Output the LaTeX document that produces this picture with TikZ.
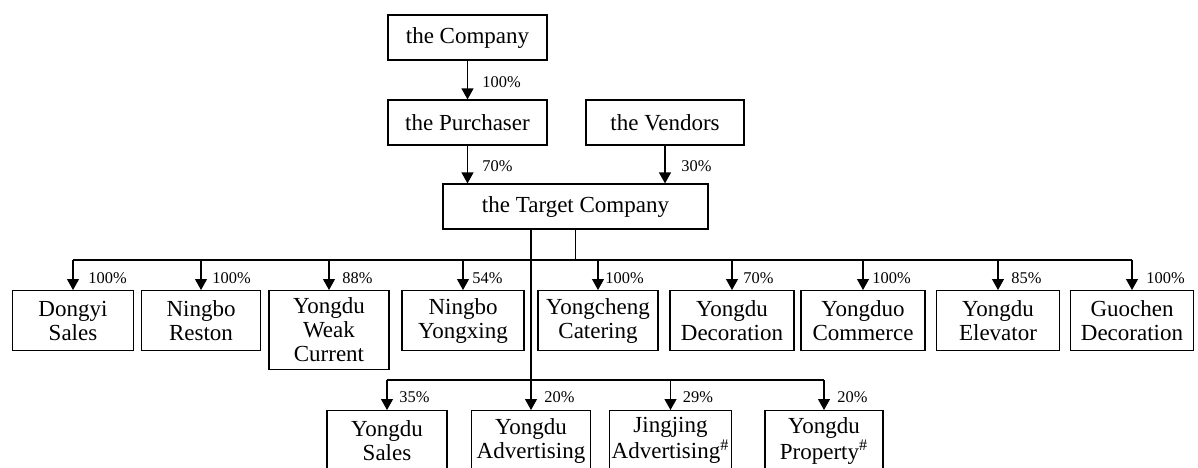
\documentclass[tikz,border=0pt]{standalone}
\usepackage{fontspec}
\setmainfont{Liberation Serif}
\usetikzlibrary{arrows.meta}

\begin{document}
\begin{tikzpicture}
        [
          x=0.5pt, y=-0.5pt,
          box/.style={draw, line width=0.6pt, align=center, inner sep=1pt,
            font=\fontsize{11.5}{12}\selectfont},
          pct/.style={anchor=west, inner sep=0pt, font=\fontsize{8.2}{9}\selectfont},
          arr/.style={draw, line width=0.6pt, -{Triangle[length=5.5pt,width=6pt]}},
          link/.style={draw, line width=0.6pt}
        ]
        \useasboundingbox (0,0) rectangle (1198,467);
        % holding chain
        \node [box, minimum width=79.5pt, minimum height=22.5pt] (company) at (467.5,37.5) {the Company};
        \node [box, minimum width=79.5pt, minimum height=22.5pt] (purchaser) at (467.5,122.5) {the Purchaser};
        \node [box, minimum width=79pt, minimum height=22.5pt] (vendors) at (665,122.5) {the Vendors};
        \node [box, minimum width=132.5pt, minimum height=22.5pt] (target) at (575.5,206.5) {the Target Company};
        \draw [arr] (company) -- (purchaser);
        \draw [arr] (purchaser.south) -- (purchaser.south |- target.north);
        \draw [arr] (vendors.south) -- (vendors.south |- target.north);
        \node [pct] (pcompany) at (482,82) {100\%};
        \node [pct] (ppurchaser) at (482,166) {70\%};
        \node [pct] (pvendors) at (681,166) {30\%};
        % buses
        \coordinate (busA) at (576,260);
        \coordinate (busB) at (531,380);
        % first row
        \foreach \name/\x/\w/\h/\txt/\p/\dx in {
            dongyi/73/60.5/30/{Dongyi\\Sales}/100/15,
            reston/201/59.5/30/{Ningbo\\Reston}/100/11,
            weak/329/60/39.5/{Yongdu\\Weak\\Current}/88/13,
            yongxing/463/61/30/{Ningbo\\Yongxing}/54/9,
            catering/598/60/30/{Yongcheng\\Catering}/100/7,
            decoration/732/62/30/{Yongdu\\Decoration}/70/11,
            commerce/863/62/30/{Yongduo\\Commerce}/100/9,
            elevator/998/61.5/30/{Yongdu\\Elevator}/85/13,
            guochen/1132/61.5/30/{Guochen\\Decoration}/100/14} {
            \node [box, anchor=north, minimum width=\w pt, minimum height=\h pt] (\name) at (\x,290) {\txt};
            \draw [arr] (\name.north |- busA) -- (\name.north);
            \node [pct] (p\name) at (\x+\dx,278) {\p\%};
        }
        \draw [link] (target.south) -- (target.south |- busA);
        \draw [link] (dongyi.north |- busA) -- (guochen.north |- busA);
        % second row
        \foreach \name/\x/\w/\txt/\p/\dx in {
            sales/387/60/{Yongdu\\Sales}/35/12,
            advert/531/59.5/{Yongdu\\Advertising}/20/13,
            jingjing/670.5/59.5/{Jingjing\\Advertising\textsuperscript{\#}}/29/12,
            property/824/59/{Yongdu\\Property\textsuperscript{\#}}/20/13} {
            \node [box, anchor=north, minimum width=\w pt, minimum height=30pt] (\name) at (\x,410) {\txt};
            \draw [arr] (\name.north |- busB) -- (\name.north);
            \node [pct] (p\name) at (\x+\dx,397) {\p\%};
        }
        \draw [link] (target.south -| advert.north) -- (advert.north |- busB);
        \draw [link] (sales.north |- busB) -- (property.north |- busB);
\end{tikzpicture}
\end{document}
